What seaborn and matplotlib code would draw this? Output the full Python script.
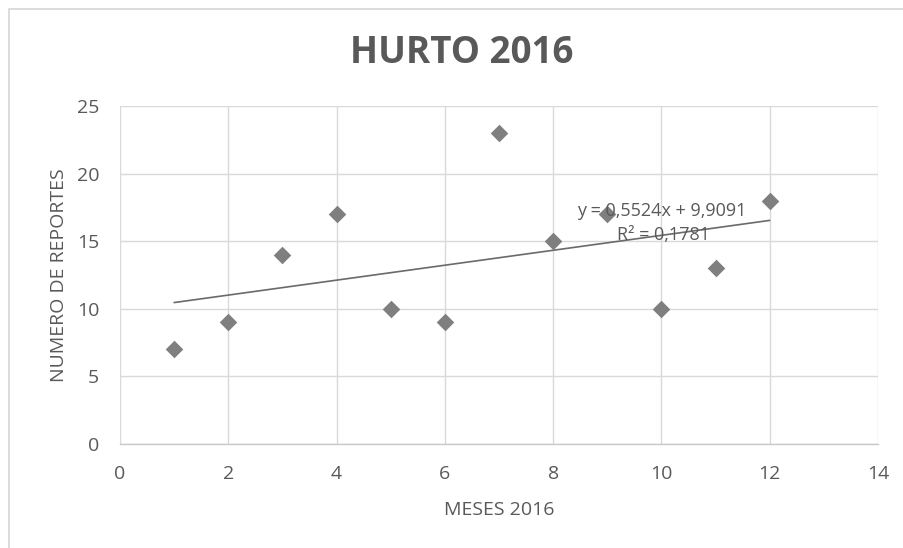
import numpy as np
import pandas as pd
import matplotlib
matplotlib.use("Agg")
import matplotlib.pyplot as plt
import seaborn as sns
from matplotlib.patches import Rectangle

meses = [1, 2, 3, 4, 5, 6, 7, 8, 9, 10, 11, 12]
reportes = [7, 9, 14, 17, 10, 9, 23, 15, 17, 10, 13, 18]
x_ticks = [0, 2, 4, 6, 8, 10, 12, 14]
y_ticks = [0, 5, 10, 15, 20, 25]

df = pd.DataFrame({"MESES 2016": meses, "NUMERO DE REPORTES": reportes})

sns.set_theme(style="white")
plt.rcParams['font.family'] = ['Open Sans', 'DejaVu Sans']

W, H = 904, 548
fig = plt.figure(figsize=(W / 100, H / 100), dpi=100)
ax = fig.add_axes([120 / W, 1 - 444 / H, (878 - 120) / W, (444 - 106) / H])

# outer chart border (only top and left edges visible in the reference)
fig.patches.append(Rectangle((9 / W, -0.05), 1.2, (1 - 9 / H) + 0.05, transform=fig.transFigure,
                             fill=False, edgecolor='#d9d9d9', linewidth=1.3))

grey_txt = '#595959'
ax.set_xlim(0, 14)
ax.set_ylim(0, 25)
ax.set_xticks(x_ticks)
ax.set_yticks(y_ticks)
ax.grid(True, color='#d9d9d9', linewidth=1.0)
ax.set_axisbelow(True)
for s in ['top', 'right', 'left']:
    ax.spines[s].set_visible(False)
ax.spines['bottom'].set_color('#c8c8c8')
ax.spines['bottom'].set_linewidth(1.0)
ax.tick_params(axis='both', length=0, labelsize=14, labelcolor=grey_txt, pad=15)

# linear trendline
coef = np.polyfit(meses, reportes, 1)
xt = np.array([min(meses), max(meses)])
ax.plot(xt, np.polyval(coef, xt), color='#6a6a6a', linewidth=1.2, zorder=2)

sns.scatterplot(data=df, x="MESES 2016", y="NUMERO DE REPORTES", ax=ax, marker='D',
                s=80, color='#7f7f7f', edgecolor='#7f7f7f', linewidth=0, zorder=3)

pred = np.polyval(coef, meses)
r2 = 1 - np.sum((np.array(reportes) - pred) ** 2) / np.sum((np.array(reportes) - np.mean(reportes)) ** 2)
eq = "y = {:.4f}x + {:.4f}".format(coef[0], coef[1]).replace('.', ',')
r2t = "R² = {:.4f}".format(r2).replace('.', ',')
ax.text(10.01, 16.86, eq, ha='center', va='baseline', fontsize=13, color=grey_txt, zorder=4)
ax.text(10.03, 15.09, r2t, ha='center', va='baseline', fontsize=13, color=grey_txt, zorder=4)

ax.set_xlabel("MESES 2016", fontsize=14, color=grey_txt)
ax.set_ylabel("NUMERO DE REPORTES", fontsize=14, color=grey_txt)
ax.xaxis.set_label_coords(0.5, -0.169)
ax.yaxis.set_label_coords(-0.0686, 0.5)
fig.text(462 / W, 1 - 63 / H, "HURTO 2016", ha='center', va='baseline', fontsize=26.5,
         fontweight='bold', color=grey_txt)

fig.savefig("out.png", dpi=100)
